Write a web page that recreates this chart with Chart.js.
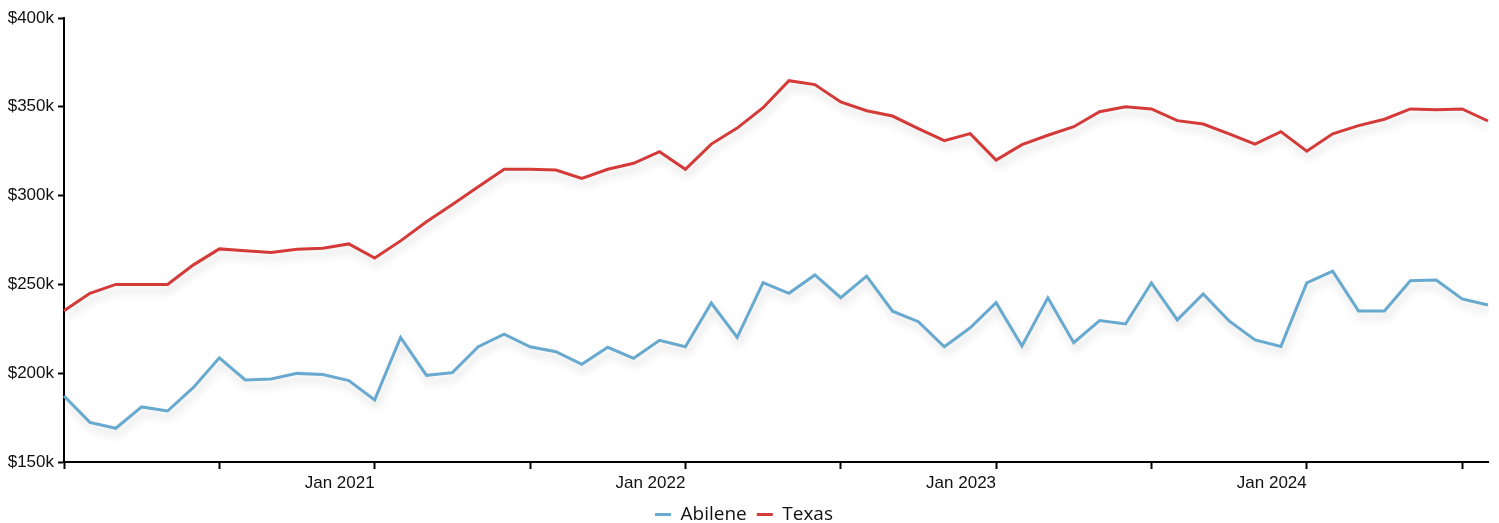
<!DOCTYPE html>
<html>
<head>
<meta charset="utf-8">
<script src="https://cdn.jsdelivr.net/npm/chart.js@4"></script>
<style>
  html, body { margin: 0; padding: 0; background: #fff; }
  #wrap { width: 1499px; height: 523px; position: relative; }
</style>
</head>
<body>
<div id="wrap"><canvas id="myChart"></canvas></div>
<script>
// 月度中位房价（千美元），2020-01 到 2024-08
const months = ['Jan', 'Feb', 'Mar', 'Apr', 'May', 'Jun', 'Jul', 'Aug', 'Sep', 'Oct', 'Nov', 'Dec'];
const startYear = 2020;
const pointCount = 56;

const abilene = [
  187.2, 172.3, 169.0, 181.0, 178.7, 192.0, 208.7, 196.2, 196.7, 199.9, 199.3, 195.8,
  185.0, 220.2, 198.8, 200.3, 214.9, 222.0, 214.9, 212.1, 205.0, 214.6, 208.4, 218.5,
  214.9, 239.5, 220.2, 251.0, 245.0, 255.3, 242.5, 254.7, 234.9, 229.0, 214.9, 225.6,
  239.7, 215.3, 242.5, 217.2, 229.6, 227.7, 250.8, 230.0, 244.6, 229.4, 218.7, 215.0,
  250.8, 257.5, 235.0, 235.0, 252.0, 252.5, 241.8, 238.4
];
const texas = [
  235.2, 245.0, 250.0, 250.0, 250.0, 261.0, 270.0, 269.0, 268.0, 269.8, 270.3, 272.8,
  264.8, 274.5, 285.3, 295.0, 305.0, 314.8, 314.8, 314.4, 309.7, 314.8, 318.2, 324.7,
  314.8, 329.0, 338.0, 349.5, 364.7, 362.5, 352.7, 347.8, 344.8, 337.7, 330.9, 334.9,
  320.0, 328.7, 334.0, 338.8, 347.2, 350.0, 348.8, 342.2, 340.3, 334.7, 329.0, 336.0,
  325.0, 334.8, 339.4, 343.0, 348.8, 348.4, 348.8, 342.0
];
const yTicks = { min: 150, max: 400, step: 50 };

const labels = [];
for (let i = 0; i < pointCount; i++) {
  labels.push(months[i % 12] + ' ' + (startYear + Math.floor(i / 12)));
}

// 线条下方的柔和阴影
const shadowPlugin = {
  id: 'lineShadow',
  beforeDatasetDraw(chart) {
    const c = chart.ctx;
    c.save();
    c.shadowColor = 'rgba(0, 0, 0, 0.16)';
    c.shadowBlur = 9;
    c.shadowOffsetX = 2;
    c.shadowOffsetY = 6;
  },
  afterDatasetDraw(chart) {
    chart.ctx.restore();
  }
};

const tickFont = { family: '"Liberation Sans", Arial, sans-serif', size: 17 };

new Chart(document.getElementById('myChart').getContext('2d'), {
  type: 'line',
  data: {
    labels: labels,
    datasets: [
      { label: 'Abilene', data: abilene, borderColor: '#68a9cf', backgroundColor: '#68a9cf', borderWidth: 3, pointRadius: 0, tension: 0 },
      { label: 'Texas', data: texas, borderColor: '#d43a38', backgroundColor: '#d43a38', borderWidth: 3, pointRadius: 0, tension: 0 }
    ]
  },
  options: {
    responsive: true,
    maintainAspectRatio: false,
    animation: false,
    layout: { padding: { left: 0, right: 11, top: 18, bottom: -11 } },
    plugins: {
      tooltip: { enabled: false },
      legend: {
        position: 'bottom',
        labels: {
          usePointStyle: true,
          pointStyle: 'line',
          pointStyleWidth: 16,
          boxHeight: 10,
          padding: 10,
          color: '#111',
          font: { family: '"Open Sans", "Noto Sans", sans-serif', size: 19 }
        }
      }
    },
    scales: {
      x: {
        type: 'category',
        offset: false,
        border: { color: '#000', width: 2 },
        grid: {
          drawOnChartArea: false,
          drawTicks: true,
          tickLength: 7,
          tickWidth: 2,
          tickColor: ctx => (ctx.index % 6 === 0 ? '#000' : 'rgba(0,0,0,0)')
        },
        ticks: {
          autoSkip: false,
          maxRotation: 0,
          align: 'end',
          padding: 4,
          color: '#111',
          font: tickFont,
          callback: (v, i) => (i % 12 === 0 && i > 0 ? labels[i] : '')
        },
        afterFit: s => { s.height = 33; }
      },
      y: {
        min: yTicks.min,
        max: yTicks.max,
        border: { color: '#000', width: 2 },
        grid: { drawOnChartArea: false, drawTicks: true, tickLength: 6, tickWidth: 2, tickColor: '#000' },
        ticks: {
          stepSize: yTicks.step,
          padding: 4,
          color: '#111',
          font: tickFont,
          callback: v => '$' + v + 'k'
        },
        afterFit: s => { s.width = 64; }
      }
    }
  },
  plugins: [shadowPlugin]
});
</script>
</body>
</html>
